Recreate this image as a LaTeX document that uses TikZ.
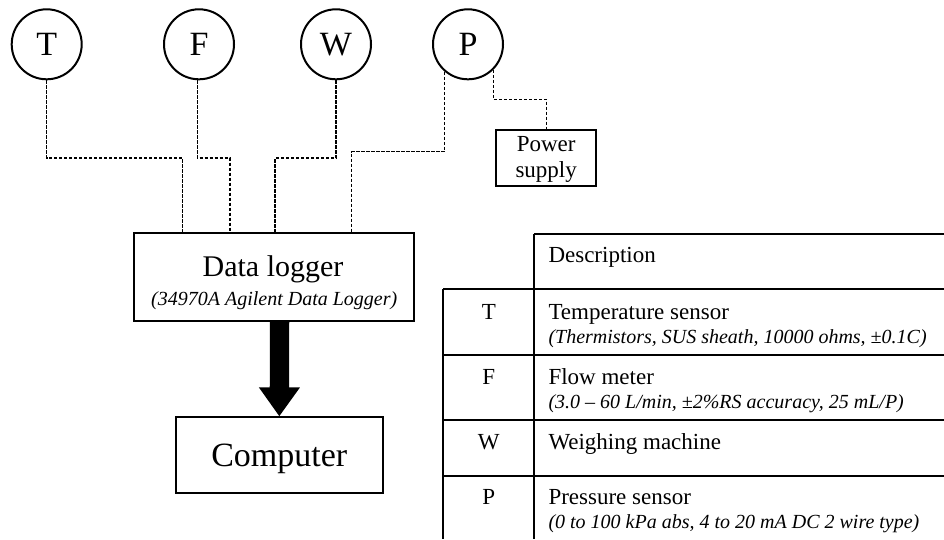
\documentclass[tikz,border=0pt]{standalone}
\usepackage{fontspec}
\setmainfont{Liberation Serif}
\usetikzlibrary{arrows.meta}
\tikzset{
  sensor/.style={draw, circle, line width=2pt, minimum size=70pt, inner sep=0pt, font=\fontsize{34}{36}\selectfont},
  boxnode/.style={draw, rectangle, line width=1.8pt, inner sep=0pt},
  wire/.style={draw, line width=1.2pt, dash pattern=on 3.2pt off 1.8pt},
  tline/.style={line width=2pt},
  bigarrow/.style={line width=19.3pt, -{Triangle[width=39pt,length=29pt]}},
  txt/.style={inner sep=0pt, anchor=base},
  ltxt/.style={inner sep=0pt, anchor=base west},
  fmain/.style={font=\fontsize{23}{26}\selectfont},
  fital/.style={font=\fontsize{20}{24}\selectfont\itshape}
}
\begin{document}
\begin{tikzpicture}[x=1pt,y=-1pt]
\useasboundingbox (0,0) rectangle (944,539);

% sensors
\node[sensor] (T) at (46.7,44.3) {T};
\node[sensor] (F) at (199,44.3) {F};
\node[sensor] (W) at (336,44.3) {W};
\node[sensor] (P) at (468,44.3) {P};

% data logger
\node[boxnode, minimum width=279.7pt, minimum height=87.7pt] (logger) at (274.2,276.9) {};
\node[txt, font=\fontsize{30}{32}\selectfont] (loggername) at (273,276.7) {Data logger};
\node[txt, fital] (loggerspec) at (274.2,305) {(34970A Agilent Data Logger)};

% computer
\node[boxnode, minimum width=206.7pt, minimum height=75.4pt] (computer) at (279.3,455) {};
\node[txt, font=\fontsize{34}{36}\selectfont] (computername) at (279.3,466.5) {Computer};

% power supply
\node[boxnode, minimum width=100.3pt, minimum height=56pt] (power) at (545.9,158) {};
\node[txt, fmain] (powerA) at (546.2,151.7) {Power};
\node[txt, fmain] (powerB) at (546.2,177.5) {supply};

% wire coordinates
\coordinate (jT) at (182.7,158);
\coordinate (jF) at (230,158);
\coordinate (jW) at (275,158);
\coordinate (jP) at (351.7,151.7);
\coordinate (jS) at (546.7,99.3);

% wires
\draw[wire] (T.south) |- (jT) -- (jT |- logger.north);
\draw[wire] (T.south -| F) ++(-1.7,0) |- (jF) -- (jF |- logger.north);
\draw[wire] (W.south) |- (jW) -- (jW |- logger.north);
\draw[wire] (P.230) |- (jP) -- (jP |- logger.north);
\draw[wire] (P.315) |- (jS) -- (jS |- power.north);

% arrow
\coordinate (aTop) at (279.6,320);
\draw[bigarrow] (aTop |- logger.south) -- (computer.north);

% table
\draw[tline] (534.3,234) -- (944,234);
\draw[tline] (443.3,289.3) -- (944,289.3);
\draw[tline] (443.3,355) -- (944,355);
\draw[tline] (443.3,420) -- (944,420);
\draw[tline] (443.3,476) -- (944,476);
\draw[tline] (443.3,289.3) -- (443.3,539);
\draw[tline] (534.3,234) -- (534.3,539);

\node[ltxt, fmain] (hdr) at (548.3,262.7) {Description};

\node[txt, fmain] (kT) at (488.8,319.3) {T};
\node[ltxt, fmain] (dT) at (548.3,319.3) {Temperature sensor};
\node[ltxt, fital] (sT) at (548.3,343.3) {(Thermistors, SUS sheath, 10000 ohms, ±0.1C)};

\node[txt, fmain] (kF) at (488.8,384) {F};
\node[ltxt, fmain] (dF) at (548.3,384) {Flow meter};
\node[ltxt, fital] (sF) at (548.3,408.3) {(3.0 – 60 L/min, ±2\%RS accuracy, 25 mL/P)};

\node[txt, fmain] (kW) at (488.8,449.3) {W};
\node[ltxt, fmain] (dW) at (548.3,449.3) {Weighing machine};

\node[txt, fmain] (kP) at (488.8,504) {P};
\node[ltxt, fmain] (dP) at (548.3,504) {Pressure sensor};
\node[ltxt, fital] (sP) at (548.3,528.3) {(0 to 100 kPa abs, 4 to 20 mA DC 2 wire type)};
\end{tikzpicture}
\end{document}
